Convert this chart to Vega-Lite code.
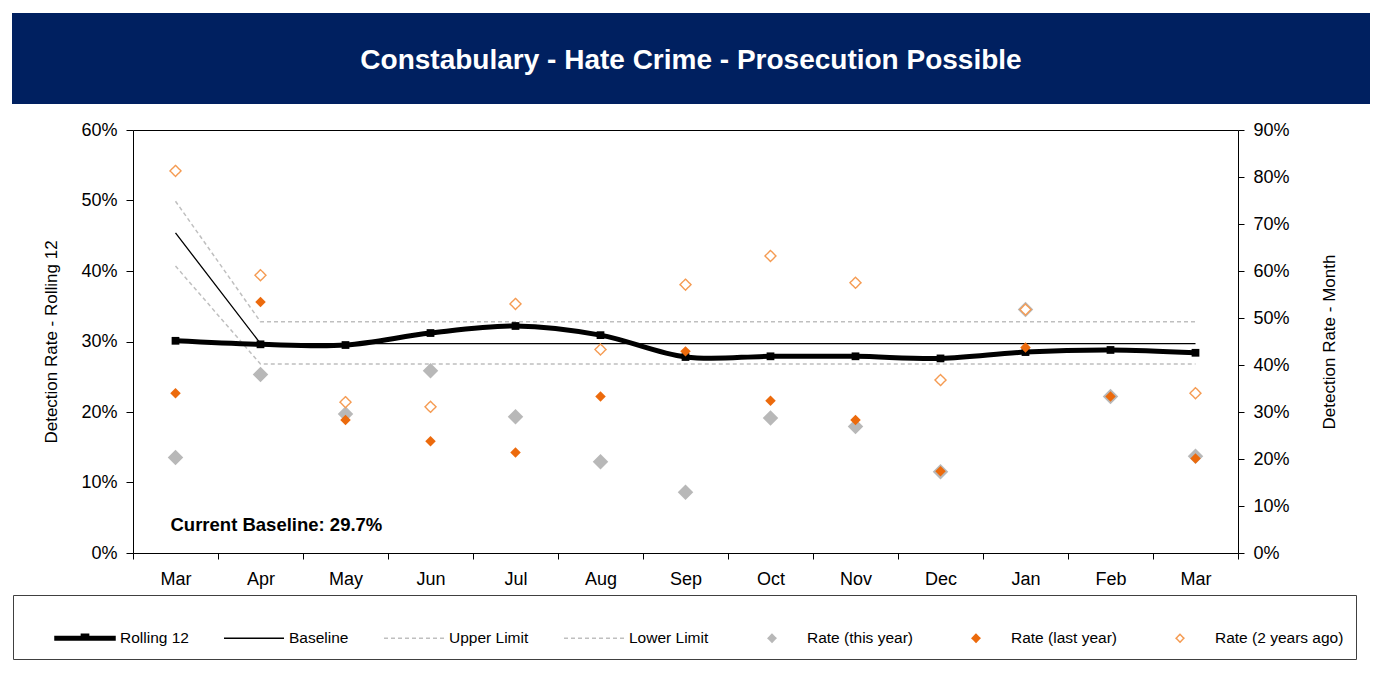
{
  "$schema": "https://vega.github.io/schema/vega-lite/v6.json",
  "padding": {"left": 12, "top": 13, "right": 20, "bottom": 8},
  "background": "#ffffff",
  "spacing": 17,
  "datasets": {
    "months": [
      {"month": "Mar_1", "Rolling 12": 0.301, "Baseline": 0.454, "Upper Limit": 0.499, "Lower Limit": 0.407, "Rate (this year)": 0.203, "Rate (last year)": 0.340, "Rate (2 years ago)": 0.813},
      {"month": "Apr", "Rolling 12": 0.296, "Baseline": 0.297, "Upper Limit": 0.328, "Lower Limit": 0.268, "Rate (this year)": 0.380, "Rate (last year)": 0.534, "Rate (2 years ago)": 0.591},
      {"month": "May", "Rolling 12": 0.295, "Baseline": 0.297, "Upper Limit": 0.328, "Lower Limit": 0.268, "Rate (this year)": 0.296, "Rate (last year)": 0.283, "Rate (2 years ago)": 0.321},
      {"month": "Jun", "Rolling 12": 0.312, "Baseline": 0.297, "Upper Limit": 0.328, "Lower Limit": 0.268, "Rate (this year)": 0.388, "Rate (last year)": 0.238, "Rate (2 years ago)": 0.311},
      {"month": "Jul", "Rolling 12": 0.322, "Baseline": 0.297, "Upper Limit": 0.328, "Lower Limit": 0.268, "Rate (this year)": 0.290, "Rate (last year)": 0.214, "Rate (2 years ago)": 0.530},
      {"month": "Aug", "Rolling 12": 0.309, "Baseline": 0.297, "Upper Limit": 0.328, "Lower Limit": 0.268, "Rate (this year)": 0.194, "Rate (last year)": 0.333, "Rate (2 years ago)": 0.433},
      {"month": "Sep", "Rolling 12": 0.278, "Baseline": 0.297, "Upper Limit": 0.328, "Lower Limit": 0.268, "Rate (this year)": 0.129, "Rate (last year)": 0.429, "Rate (2 years ago)": 0.571},
      {"month": "Oct", "Rolling 12": 0.279, "Baseline": 0.297, "Upper Limit": 0.328, "Lower Limit": 0.268, "Rate (this year)": 0.287, "Rate (last year)": 0.324, "Rate (2 years ago)": 0.632},
      {"month": "Nov", "Rolling 12": 0.279, "Baseline": 0.297, "Upper Limit": 0.328, "Lower Limit": 0.268, "Rate (this year)": 0.269, "Rate (last year)": 0.283, "Rate (2 years ago)": 0.575},
      {"month": "Dec", "Rolling 12": 0.276, "Baseline": 0.297, "Upper Limit": 0.328, "Lower Limit": 0.268, "Rate (this year)": 0.173, "Rate (last year)": 0.174, "Rate (2 years ago)": 0.368},
      {"month": "Jan", "Rolling 12": 0.285, "Baseline": 0.297, "Upper Limit": 0.328, "Lower Limit": 0.268, "Rate (this year)": 0.518, "Rate (last year)": 0.437, "Rate (2 years ago)": 0.518},
      {"month": "Feb", "Rolling 12": 0.288, "Baseline": 0.297, "Upper Limit": 0.328, "Lower Limit": 0.268, "Rate (this year)": 0.333, "Rate (last year)": 0.333, "Rate (2 years ago)": null},
      {"month": "Mar_2", "Rolling 12": 0.284, "Baseline": 0.297, "Upper Limit": 0.328, "Lower Limit": 0.268, "Rate (this year)": 0.206, "Rate (last year)": 0.201, "Rate (2 years ago)": 0.340}
    ]
  },
  "vconcat": [
    {
      "width": 1358,
      "height": 91,
      "view": {"fill": "#002060", "stroke": null},
      "data": {"values": [{"t": "Constabulary - Hate Crime - Prosecution Possible"}]},
      "mark": {"type": "text", "color": "#ffffff", "font": "Liberation Sans", "fontSize": 28, "fontWeight": "bold", "align": "center", "baseline": "middle", "dy": 2},
      "encoding": {"text": {"field": "t"}}
    },
    {
      "width": 1358,
      "height": 423,
      "view": {"stroke": null},
      "data": {"name": "months"},
      "layer": [
        {
          "layer": [
            {
              "mark": {"type": "line", "stroke": "#BFBFBF", "strokeWidth": 1.5, "strokeDash": [4, 3]},
              "encoding": {
                "x": {"field": "month", "type": "ordinal", "sort": ["Mar_1","Apr","May","Jun","Jul","Aug","Sep","Oct","Nov","Dec","Jan","Feb","Mar_2"], "scale": {"type": "band", "paddingInner": 0, "paddingOuter": 0, "domain": ["Mar_1","Apr","May","Jun","Jul","Aug","Sep","Oct","Nov","Dec","Jan","Feb","Mar_2"], "range": [121, 1226]}, "axis": {"title": null, "labelExpr": "isValid(datum.value) ? split(datum.value, '_')[0] : ''", "tickBand": "extent", "labelAngle": 0}},
                "y": {"field": "Upper Limit", "type": "quantitative", "scale": {"domain": [0, 0.6]}, "axis": {"values": [0, 0.1, 0.2, 0.3, 0.4, 0.5, 0.6], "format": ".0%", "offset": -121}, "title": "Detection Rate - Rolling 12"}
              }
            },
            {
              "mark": {"type": "line", "stroke": "#BFBFBF", "strokeWidth": 1.5, "strokeDash": [4, 3]},
              "encoding": {
                "x": {"field": "month", "type": "ordinal", "sort": ["Mar_1","Apr","May","Jun","Jul","Aug","Sep","Oct","Nov","Dec","Jan","Feb","Mar_2"], "scale": {"type": "band", "paddingInner": 0, "paddingOuter": 0, "domain": ["Mar_1","Apr","May","Jun","Jul","Aug","Sep","Oct","Nov","Dec","Jan","Feb","Mar_2"], "range": [121, 1226]}, "axis": {"title": null, "labelExpr": "isValid(datum.value) ? split(datum.value, '_')[0] : ''", "tickBand": "extent", "labelAngle": 0}},
                "y": {"field": "Lower Limit", "type": "quantitative", "scale": {"domain": [0, 0.6]}, "axis": {"values": [0, 0.1, 0.2, 0.3, 0.4, 0.5, 0.6], "format": ".0%", "offset": -121}, "title": "Detection Rate - Rolling 12"}
              }
            },
            {
              "mark": {"type": "line", "stroke": "#000000", "strokeWidth": 1.3},
              "encoding": {
                "x": {"field": "month", "type": "ordinal", "sort": ["Mar_1","Apr","May","Jun","Jul","Aug","Sep","Oct","Nov","Dec","Jan","Feb","Mar_2"], "scale": {"type": "band", "paddingInner": 0, "paddingOuter": 0, "domain": ["Mar_1","Apr","May","Jun","Jul","Aug","Sep","Oct","Nov","Dec","Jan","Feb","Mar_2"], "range": [121, 1226]}, "axis": {"title": null, "labelExpr": "isValid(datum.value) ? split(datum.value, '_')[0] : ''", "tickBand": "extent", "labelAngle": 0}},
                "y": {"field": "Baseline", "type": "quantitative", "scale": {"domain": [0, 0.6]}, "axis": {"values": [0, 0.1, 0.2, 0.3, 0.4, 0.5, 0.6], "format": ".0%", "offset": -121}, "title": "Detection Rate - Rolling 12"}
              }
            },
            {
              "mark": {"type": "line", "stroke": "#000000", "strokeWidth": 5, "interpolate": "cardinal"},
              "encoding": {
                "x": {"field": "month", "type": "ordinal", "sort": ["Mar_1","Apr","May","Jun","Jul","Aug","Sep","Oct","Nov","Dec","Jan","Feb","Mar_2"], "scale": {"type": "band", "paddingInner": 0, "paddingOuter": 0, "domain": ["Mar_1","Apr","May","Jun","Jul","Aug","Sep","Oct","Nov","Dec","Jan","Feb","Mar_2"], "range": [121, 1226]}, "axis": {"title": null, "labelExpr": "isValid(datum.value) ? split(datum.value, '_')[0] : ''", "tickBand": "extent", "labelAngle": 0}},
                "y": {"field": "Rolling 12", "type": "quantitative", "scale": {"domain": [0, 0.6]}, "axis": {"values": [0, 0.1, 0.2, 0.3, 0.4, 0.5, 0.6], "format": ".0%", "offset": -121}, "title": "Detection Rate - Rolling 12"}
              }
            },
            {
              "mark": {"type": "point", "shape": "square", "filled": true, "color": "#000000", "size": 60, "opacity": 1},
              "encoding": {
                "x": {"field": "month", "type": "ordinal", "sort": ["Mar_1","Apr","May","Jun","Jul","Aug","Sep","Oct","Nov","Dec","Jan","Feb","Mar_2"], "scale": {"type": "band", "paddingInner": 0, "paddingOuter": 0, "domain": ["Mar_1","Apr","May","Jun","Jul","Aug","Sep","Oct","Nov","Dec","Jan","Feb","Mar_2"], "range": [121, 1226]}, "axis": {"title": null, "labelExpr": "isValid(datum.value) ? split(datum.value, '_')[0] : ''", "tickBand": "extent", "labelAngle": 0}},
                "y": {"field": "Rolling 12", "type": "quantitative", "scale": {"domain": [0, 0.6]}, "axis": {"values": [0, 0.1, 0.2, 0.3, 0.4, 0.5, 0.6], "format": ".0%", "offset": -121}, "title": "Detection Rate - Rolling 12"}
              }
            },
            {
              "data": {"values": [{"note": "Current Baseline: 29.7%"}]},
              "mark": {"type": "text", "align": "left", "baseline": "middle", "font": "Liberation Sans", "fontSize": 18.5, "fontWeight": "bold", "color": "#000000", "dx": -5},
              "encoding": {
                "x": {"datum": "Mar_1", "type": "ordinal", "scale": {"type": "band", "paddingInner": 0, "paddingOuter": 0, "domain": ["Mar_1","Apr","May","Jun","Jul","Aug","Sep","Oct","Nov","Dec","Jan","Feb","Mar_2"], "range": [121, 1226]}},
                "y": {"datum": 0.04, "type": "quantitative", "title": "Detection Rate - Rolling 12"},
                "text": {"field": "note"}
              }
            }
          ]
        },
        {
          "layer": [
            {
              "transform": [{"fold": ["Rate (this year)"], "as": ["series", "value"]}],
              "mark": {"type": "point", "size": 14200, "strokeWidth": 0, "opacity": 1},
              "encoding": {
                "x": {"field": "month", "type": "ordinal", "sort": ["Mar_1","Apr","May","Jun","Jul","Aug","Sep","Oct","Nov","Dec","Jan","Feb","Mar_2"], "scale": {"type": "band", "paddingInner": 0, "paddingOuter": 0, "domain": ["Mar_1","Apr","May","Jun","Jul","Aug","Sep","Oct","Nov","Dec","Jan","Feb","Mar_2"], "range": [121, 1226]}, "axis": {"orient": "top", "title": null, "labels": false, "ticks": false, "domain": true}},
                "y": {"field": "value", "type": "quantitative", "scale": {"domain": [0, 0.9]}, "axis": {"orient": "right", "values": [0, 0.1, 0.2, 0.3, 0.4, 0.5, 0.6, 0.7, 0.8, 0.9], "format": ".0%", "offset": -132}, "title": "Detection Rate - Month"},
                "shape": {"field": "series", "type": "nominal", "title": " ", "scale": {"domain": ["Rolling 12", "Baseline", "Upper Limit", "Lower Limit", "Rate (this year)", "Rate (last year)", "Rate (2 years ago)"], "range": ["M-1,-0.06L-0.12,-0.06L-0.12,-0.13L0.12,-0.13L0.12,-0.06L1,-0.06L1,0.06L-1,0.06Z", "stroke", "stroke", "stroke", "M0,-0.13L0.13,0L0,0.13L-0.13,0Z", "M0,-0.13L0.13,0L0,0.13L-0.13,0Z", "M0,-0.13L0.13,0L0,0.13L-0.13,0Z"]}},
                "fill": {"field": "series", "type": "nominal", "title": " ", "scale": {"domain": ["Rolling 12", "Baseline", "Upper Limit", "Lower Limit", "Rate (this year)", "Rate (last year)", "Rate (2 years ago)"], "range": ["#000000", "transparent", "transparent", "transparent", "#B8B8B8", "#EC6A0C", "#FFFFFF"]}},
                "stroke": {"field": "series", "type": "nominal", "title": " ", "scale": {"domain": ["Rolling 12", "Baseline", "Upper Limit", "Lower Limit", "Rate (this year)", "Rate (last year)", "Rate (2 years ago)"], "range": ["#000000", "#000000", "#BFBFBF", "#BFBFBF", "#B8B8B8", "#EC6A0C", "#F59B52"]}},
                "strokeDash": {"field": "series", "type": "nominal", "title": " ", "scale": {"domain": ["Rolling 12", "Baseline", "Upper Limit", "Lower Limit", "Rate (this year)", "Rate (last year)", "Rate (2 years ago)"], "range": [[1, 0], [1, 0], [4, 3], [4, 3], [1, 0], [1, 0], [1, 0]]}}
              }
            },
            {
              "transform": [{"fold": ["Rate (last year)"], "as": ["series", "value"]}],
              "mark": {"type": "point", "size": 6500, "strokeWidth": 0, "opacity": 1},
              "encoding": {
                "x": {"field": "month", "type": "ordinal", "sort": ["Mar_1","Apr","May","Jun","Jul","Aug","Sep","Oct","Nov","Dec","Jan","Feb","Mar_2"], "scale": {"type": "band", "paddingInner": 0, "paddingOuter": 0, "domain": ["Mar_1","Apr","May","Jun","Jul","Aug","Sep","Oct","Nov","Dec","Jan","Feb","Mar_2"], "range": [121, 1226]}, "axis": {"orient": "top", "title": null, "labels": false, "ticks": false, "domain": true}},
                "y": {"field": "value", "type": "quantitative", "scale": {"domain": [0, 0.9]}, "axis": {"orient": "right", "values": [0, 0.1, 0.2, 0.3, 0.4, 0.5, 0.6, 0.7, 0.8, 0.9], "format": ".0%", "offset": -132}, "title": "Detection Rate - Month"},
                "shape": {"field": "series", "type": "nominal", "title": " "},
                "fill": {"field": "series", "type": "nominal", "title": " "},
                "stroke": {"field": "series", "type": "nominal", "title": " "},
                "strokeDash": {"field": "series", "type": "nominal", "title": " "}
              }
            },
            {
              "transform": [{"fold": ["Rate (2 years ago)"], "as": ["series", "value"]}],
              "mark": {"type": "point", "size": 7200, "strokeWidth": 1.4, "opacity": 1},
              "encoding": {
                "x": {"field": "month", "type": "ordinal", "sort": ["Mar_1","Apr","May","Jun","Jul","Aug","Sep","Oct","Nov","Dec","Jan","Feb","Mar_2"], "scale": {"type": "band", "paddingInner": 0, "paddingOuter": 0, "domain": ["Mar_1","Apr","May","Jun","Jul","Aug","Sep","Oct","Nov","Dec","Jan","Feb","Mar_2"], "range": [121, 1226]}, "axis": {"orient": "top", "title": null, "labels": false, "ticks": false, "domain": true}},
                "y": {"field": "value", "type": "quantitative", "scale": {"domain": [0, 0.9]}, "axis": {"orient": "right", "values": [0, 0.1, 0.2, 0.3, 0.4, 0.5, 0.6, 0.7, 0.8, 0.9], "format": ".0%", "offset": -132}, "title": "Detection Rate - Month"},
                "shape": {"field": "series", "type": "nominal", "title": " "},
                "fill": {"field": "series", "type": "nominal", "title": " "},
                "stroke": {"field": "series", "type": "nominal", "title": " "},
                "strokeDash": {"field": "series", "type": "nominal", "title": " "}
              }
            }
          ]
        }
      ],
      "resolve": {"scale": {"y": "independent"}, "axis": {"x": "independent"}}
    }
  ],
  "config": {
    "font": "Liberation Sans",
    "view": {"stroke": null},
    "axis": {"grid": false, "labelFont": "Liberation Sans", "titleFont": "Liberation Sans", "labelColor": "#000000", "titleColor": "#000000", "domainColor": "#000000", "tickColor": "#000000", "labelFontSize": 18, "titleFontSize": 17, "titleFontWeight": "normal", "domainWidth": 1, "tickWidth": 1},
    "axisBottom": {"tickSize": 6, "labelPadding": 11},
    "axisLeft": {"tickSize": 7, "labelPadding": 9, "titlePadding": 20},
    "axisRight": {"tickSize": 6, "labelPadding": 9, "titlePadding": 32, "titleAngle": 270, "titleBaseline": "top"},
    "legend": {"orient": "none", "legendX": 1, "legendY": 582, "direction": "horizontal", "strokeColor": "#404040", "fillColor": "#ffffff", "padding": 12, "labelFont": "Liberation Sans", "labelFontSize": 15.5, "labelColor": "#000000", "labelOffset": 4, "columnPadding": 32, "symbolSize": 3600, "symbolStrokeWidth": 1.5, "titleOrient": "left", "titleFontSize": 1, "titlePadding": 29, "labelLimit": 300}
  }
}
